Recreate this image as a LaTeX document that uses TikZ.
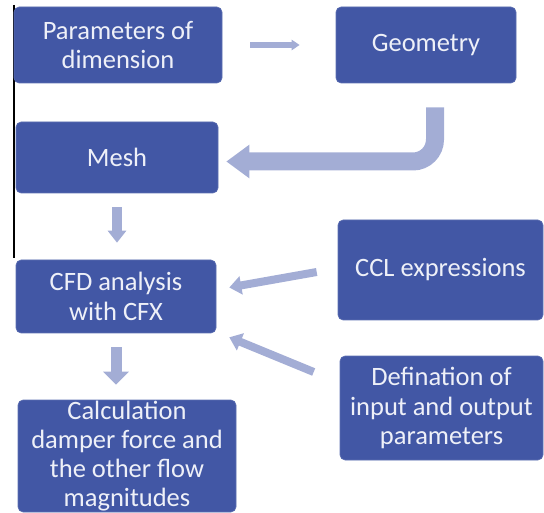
\documentclass[tikz,border=0pt]{standalone}
\usepackage{fontspec}
\setmainfont{Carlito}
\usetikzlibrary{arrows,arrows.meta}
\definecolor{boxblue}{HTML}{4257A5}
\definecolor{arrowblue}{HTML}{A3ADD5}
\definecolor{textwhite}{HTML}{EEF0F8}
\begin{document}
\begin{tikzpicture}[x=1pt,y=-1pt,
        box/.style={fill=boxblue, draw=boxblue!85!white, line width=.6pt, rounded corners=5pt,
            text=textwhite, align=center, inner sep=0pt,
            font=\fontsize{26.5}{29.5}\selectfont},
        flow/.style={arrowblue, line width=#1}]
                \useasboundingbox (0,0) rectangle (544,513);
                \draw[black, line width=1.3pt] (14,5) -- (14,258);
                \node[box, minimum width=208pt, minimum height=76pt] (param) at (118,45) {Parameters of\\dimension};
                \node[box, minimum width=180pt, minimum height=76pt] (geom) at (426,45) {Geometry};
                \node[box, minimum width=202pt, minimum height=71pt] (mesh) at (117,157.5) {Mesh};
                \node[box, minimum width=200pt, minimum height=73pt] (cfd) at (116,296.5) {CFD analysis\\with CFX};
                \node[box, minimum width=218pt, minimum height=112pt, font=\fontsize{26.5}{29}\selectfont] (calc) at (127,456) {Calculation\\damper force and\\the other flow\\magnitudes};
                \node[box, minimum width=205pt, minimum height=100pt] (ccl) at (440.5,270) {CCL expressions};
                \node[box, minimum width=203pt, minimum height=104pt] (def) at (441.5,408) {Defination of\\input and output\\parameters};
                \draw[flow=6pt, -{Triangle[length=8pt,width=10pt]}, shorten <=28pt, shorten >=36pt] (param) -- (geom);
                \draw[flow=18pt, rounded corners=22pt, -{Triangle[length=23pt,width=32pt]}]
                    ([xshift=9pt,yshift=-24pt]geom.south) |- ([xshift=8pt,yshift=-4pt]mesh.east);
                \draw[flow=10pt, -{Triangle[length=12pt,width=18pt]}, shorten <=14pt, shorten >=17pt] (mesh.south) -- (mesh.south |- cfd.north);
                \draw[flow=11pt, -{Triangle[length=13pt,width=25pt]}, shorten <=14pt, shorten >=15pt] (cfd.south) -- (cfd.south |- calc.north);
                \draw[flow=8pt, -{Triangle[length=12pt,width=18pt]}] ([xshift=-21pt,yshift=-2pt]ccl.west) -- ([xshift=13pt,yshift=9pt]cfd.east);
                \draw[flow=8pt, -{Triangle[length=12pt,width=18pt]}] ([xshift=-26pt,yshift=36pt]def.west) -- ([xshift=13pt,yshift=-4pt]cfd.south east);
            \end{tikzpicture}
\end{document}
